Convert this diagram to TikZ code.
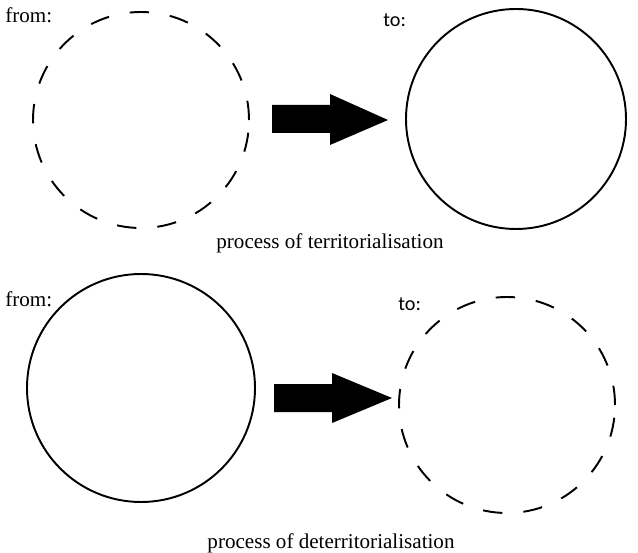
\documentclass[tikz,border=0pt]{standalone}
\usepackage{fontspec}
\setmainfont{Liberation Serif}
\newfontfamily\tofont{Carlito}
\usetikzlibrary{positioning}

\begin{document}
\begin{tikzpicture}[
  x=0.02cm, y=-0.02cm,
  ring/.style={circle, draw=black, line width=1.1pt, inner sep=0pt},
  dashring/.style={ring, dash pattern=on 11pt off 12pt},
  lab/.style={font=\fontsize{12}{14}\selectfont, inner sep=0pt},
  tolab/.style={font=\tofont\fontsize{11.5}{13}\selectfont, inner sep=0pt},
  bigarr/.style={fill=black}
]
\useasboundingbox (0,0) rectangle (638,553);

% ---- territorialisation ----
\node[lab, anchor=west]   (from1) at (5,15)    {from:};
\node[dashring, minimum size=216*0.02cm] (src1) at (141,120) {};
\node[tolab, anchor=west] (to1)   at (383,20)  {to:};
\node[ring, minimum size=220*0.02cm]     (dst1) at (516,119) {};
\node[lab]                (cap1)  at (330,243) {process of territorialisation};
\fill[bigarr] (272,105) -- (330,105) -- (330,94) -- (388,120)
  -- (330,145) -- (330,133) -- (272,133) -- cycle;

% ---- deterritorialisation ----
\node[lab, anchor=west]   (from2) at (5,299)   {from:};
\node[ring, minimum size=228*0.02cm]     (src2) at (141,388) {};
\node[tolab, anchor=west] (to2)   at (398,304) {to:};
\node[dashring, minimum size=216*0.02cm] (dst2) at (507,405) {};
\node[lab]                (cap2)  at (331,543) {process of deterritorialisation};
\fill[bigarr] (274,384) -- (332,384) -- (332,373) -- (392,398)
  -- (332,423) -- (332,412) -- (274,412) -- cycle;

\end{tikzpicture}
\end{document}
